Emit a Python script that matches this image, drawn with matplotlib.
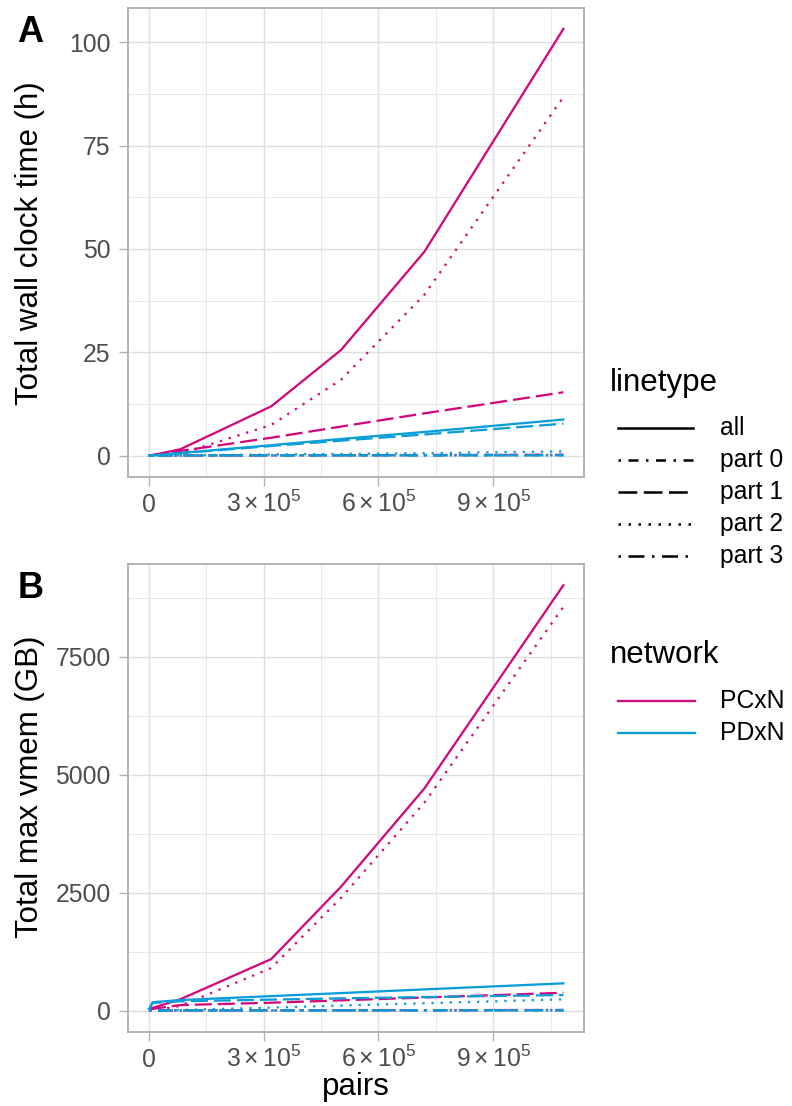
import matplotlib
matplotlib.use('Agg')
import matplotlib.pyplot as plt
from matplotlib.ticker import FixedLocator, FuncFormatter

plt.rcParams['font.family'] = ['Liberation Sans', 'DejaVu Sans']
plt.rcParams['mathtext.fontset'] = 'custom'
plt.rcParams['mathtext.rm'] = 'Liberation Sans'
plt.rcParams['mathtext.it'] = 'Liberation Sans:italic'
plt.rcParams['mathtext.bf'] = 'Liberation Sans:bold'

# number of gene pairs per run
pairs = [1e3, 1e4, 8.2e4, 3.2e5, 5.02e5, 7.2e5, 1.083e6]
networks = ['PCxN', 'PDxN']
parts = ['all', 'part 0', 'part 1', 'part 2', 'part 3']

# total wall clock time (h)
time_pcxn_all = [0.0, 0.1, 1.5, 11.9, 25.5, 49.3, 103.2]
time_pcxn_p0 = [0.0, 0.0, 0.02, 0.05, 0.08, 0.12, 0.18]
time_pcxn_p1 = [0.0, 0.1, 1.1, 4.3, 7.0, 10.2, 15.3]
time_pcxn_p2 = [0.0, 0.0, 0.4, 7.4, 18.3, 38.9, 86.7]
time_pcxn_p3 = [0.0, 0.0, 0.01, 0.05, 0.08, 0.1, 0.15]
time_pdxn_all = [0.0, 0.02, 0.6, 2.5, 4.0, 5.7, 8.7]
time_pdxn_p0 = [0.0, 0.0, 0.01, 0.02, 0.03, 0.04, 0.05]
time_pdxn_p1 = [0.0, 0.02, 0.55, 2.3, 3.6, 5.1, 7.7]
time_pdxn_p2 = [0.0, 0.0, 0.05, 0.25, 0.38, 0.55, 1.0]
time_pdxn_p3 = [0.0, 0.0, 0.01, 0.02, 0.03, 0.04, 0.05]

# total max vmem (GB)
vmem_pcxn_all = [36, 60, 241, 1095, 2627, 4712, 9019]
vmem_pcxn_p0 = [5, 5, 6, 8, 10, 12, 15]
vmem_pcxn_p1 = [20, 40, 120, 170, 220, 280, 381]
vmem_pcxn_p2 = [5, 10, 100, 905, 2390, 4410, 8560]
vmem_pcxn_p3 = [5, 5, 6, 8, 10, 12, 15]
vmem_pdxn_all = [36, 180, 226, 310, 374, 452, 580]
vmem_pdxn_p0 = [3, 3, 4, 5, 6, 7, 8]
vmem_pdxn_p1 = [20, 165, 200, 235, 262, 290, 333]
vmem_pdxn_p2 = [0, 5, 17, 65, 110, 158, 241]
vmem_pdxn_p3 = [3, 3, 4, 5, 6, 7, 8]

time_data = {
    'PCxN': [time_pcxn_all, time_pcxn_p0, time_pcxn_p1, time_pcxn_p2, time_pcxn_p3],
    'PDxN': [time_pdxn_all, time_pdxn_p0, time_pdxn_p1, time_pdxn_p2, time_pdxn_p3],
}
vmem_data = {
    'PCxN': [vmem_pcxn_all, vmem_pcxn_p0, vmem_pcxn_p1, vmem_pcxn_p2, vmem_pcxn_p3],
    'PDxN': [vmem_pdxn_all, vmem_pdxn_p0, vmem_pdxn_p1, vmem_pdxn_p2, vmem_pdxn_p3],
}

colors = {'PCxN': '#D10A7C', 'PDxN': '#0B9DD8'}
styles = ['-', (0, (1, 3, 4, 3)), (0, (7.5, 2.6)), (0, (1, 3)), (0, (1, 3, 6.4, 3))]
LW = 1.64

W, H = 792, 1106
fig = plt.figure(figsize=(W / 100, H / 100), dpi=100)


def box(left, top, right, bottom):
    return [left / W, 1 - bottom / H, (right - left) / W, (bottom - top) / H]


def xfmt(v, pos):
    if v == 0:
        return '0'
    return r'$%d\times10^{5}$' % round(v / 1e5)


def style_axes(ax, ymajor, yminor, ylim):
    ax.set_xlim(-54150, 1.137e6)
    ax.set_ylim(*ylim)
    ax.xaxis.set_major_locator(FixedLocator([0, 3e5, 6e5, 9e5]))
    ax.xaxis.set_minor_locator(FixedLocator([1.5e5, 4.5e5, 7.5e5, 1.05e6]))
    ax.xaxis.set_major_formatter(FuncFormatter(xfmt))
    ax.yaxis.set_major_locator(FixedLocator(ymajor))
    ax.yaxis.set_minor_locator(FixedLocator(yminor))
    ax.grid(which='major', color='#DEDEDE', lw=1.0)
    ax.grid(which='minor', color='#E8E8E8', lw=0.7)
    ax.set_axisbelow(True)
    for s in ax.spines.values():
        s.set_color('#B3B3B3')
        s.set_linewidth(1.4)
    ax.tick_params(which='major', length=6.5, width=1.0, color='#B3B3B3',
                   labelsize=17.8, labelcolor='#4D4D4D')
    ax.tick_params(axis='y', pad=6)
    ax.tick_params(axis='x', pad=18.5)
    ax.tick_params(which='minor', length=0)
    for lab in ax.get_xticklabels():
        lab.set_va('baseline')


def draw_panel(ax, data):
    for net in networks:
        for series, ls in zip(data[net], styles):
            ax.plot(pairs, series, color=colors[net], lw=LW, linestyle=ls)


ax_a = fig.add_axes(box(128, 7.5, 584, 477))
draw_panel(ax_a, time_data)
style_axes(ax_a, [0, 25, 50, 75, 100], [12.5, 37.5, 62.5, 87.5], (-5.2, 108.4))

ax_b = fig.add_axes(box(128, 564, 584, 1032))
draw_panel(ax_b, vmem_data)
style_axes(ax_b, [0, 2500, 5000, 7500], [1250, 3750, 6250, 8750], (-451, 9470))

# overlay in pixel units for titles, tags and legends
ov = fig.add_axes([0, 0, 1, 1])
ov.set_xlim(0, W)
ov.set_ylim(H, 0)
ov.axis('off')
ov.patch.set_visible(False)

ov.text(30, 33, 'A', fontsize=26, fontweight='bold', ha='center', va='center')
ov.text(30.5, 588, 'B', fontsize=26, fontweight='bold', ha='center', va='center')
ov.text(30, 243, 'Total wall clock time (h)', fontsize=22.5, rotation=90,
        ha='center', va='center')
ov.text(30, 787, 'Total max vmem (GB)', fontsize=22.5, rotation=90,
        ha='center', va='center')
ov.text(356, 1087, 'pairs', fontsize=22.5, ha='center', va='center')

# linetype legend
ov.text(610, 383, 'linetype', fontsize=22.5, ha='left', va='center')
for i, (name, ls) in enumerate(zip(parts, styles)):
    y = 428 + 32 * i
    ov.plot([618, 693], [y, y], color='black', lw=1.8, linestyle=ls)
    ov.text(720, y, name, fontsize=17.8, ha='left', va='center')

# network legend
ov.text(610, 655, 'network', fontsize=22.5, ha='left', va='center')
for i, net in enumerate(networks):
    y = 701 + 31.5 * i
    ov.plot([618, 695], [y, y], color=colors[net], lw=LW)
    ov.text(720, y, net, fontsize=17.8, ha='left', va='center')

fig.savefig('out.png', dpi=100)
